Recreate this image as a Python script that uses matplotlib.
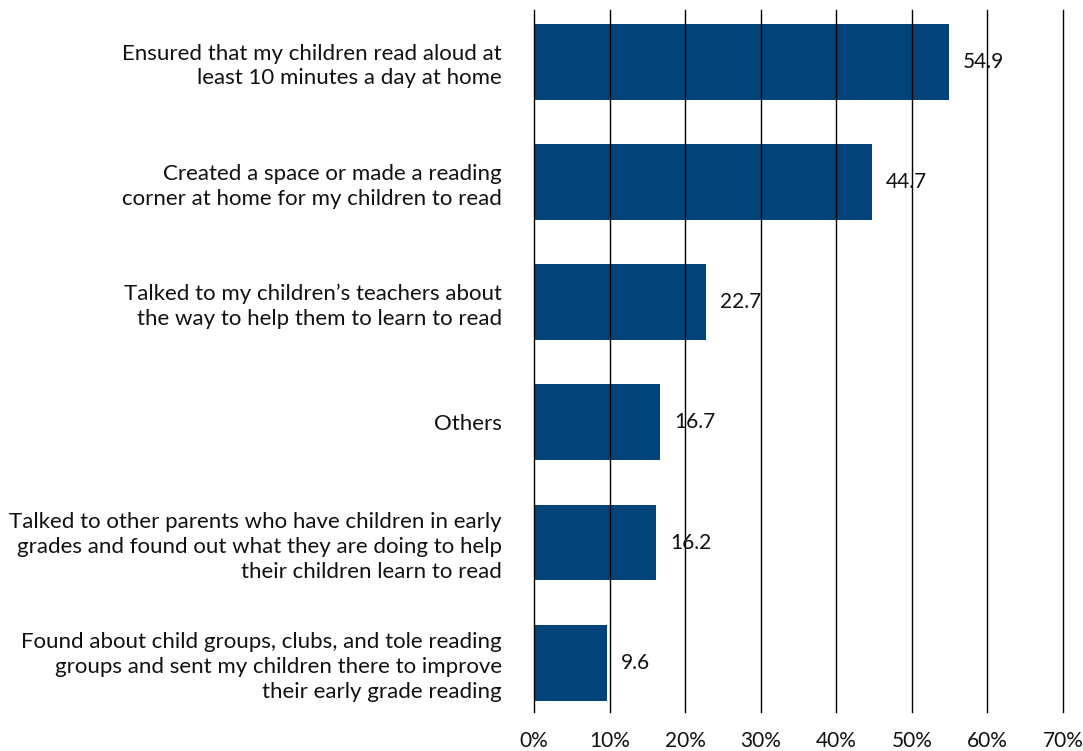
import matplotlib.pyplot as plt
import numpy as np

BAR_COLOR = "#02437a"
INK = "#111111"

labels = [
    "Ensured that my children read aloud at\nleast 10 minutes a day at home",
    "Created a space or made a reading\ncorner at home for my children to read",
    "Talked to my children\u2019s teachers about\nthe way to help them to learn to read",
    "Others",
    "Talked to other parents who have children in early\ngrades and found out what they are doing to help\ntheir children learn to read",
    "Found about child groups, clubs, and tole reading\ngroups and sent my children there to improve\ntheir early grade reading",
]
values = [54.9, 44.7, 22.7, 16.7, 16.2, 9.6]
xticks = [0, 10, 20, 30, 40, 50, 60, 70]

plt.rcParams["font.family"] = ["Lato", "DejaVu Sans"]

fig = plt.figure(figsize=(10.83, 7.51), dpi=100)
ax = fig.add_axes([534 / 1083, 1 - 712 / 751, (1063 - 534) / 1083, 702 / 751])

y = np.arange(len(values))
ax.barh(y, values, height=0.63, color=BAR_COLOR, zorder=1)

for yi, v in zip(y, values):
    ax.text(v + 1.85, yi, f"{v:.1f}", va="center", ha="left",
            fontsize=15, color=INK, zorder=3)

ax.set_xlim(0, 70)
ax.set_ylim(5.41, -0.43)
ax.set_xticks(xticks)
ax.set_xticklabels([f"{t}%" for t in xticks], fontsize=15, color=INK)
ax.set_yticks(y)
ax.set_yticklabels(labels, fontsize=16, color=INK, linespacing=1.3)
ax.tick_params(axis="y", length=0, pad=23)
ax.tick_params(axis="x", length=0, pad=14)

# vertical grid lines run behind the bars but over the value labels
ax.grid(axis="x", color="#000000", linewidth=1.0)
for line in ax.get_xgridlines():
    line.set_zorder(0.5)
    line.set_clip_on(False)
for spine in ax.spines.values():
    spine.set_visible(False)

fig.savefig("out.png", dpi=100, facecolor="white")
